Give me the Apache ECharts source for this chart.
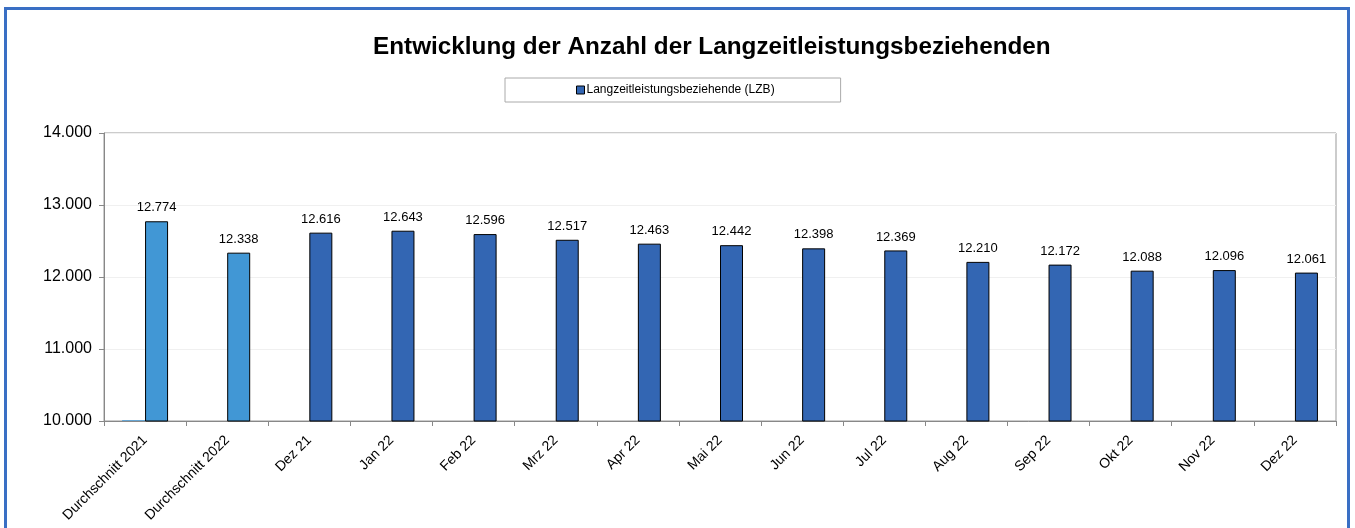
<!DOCTYPE html>
<html>
<head>
<meta charset="utf-8">
<script src="https://cdn.jsdelivr.net/npm/echarts@6/dist/echarts.min.js"></script>
<style>
html,body{margin:0;padding:0;background:#fff;}
#frame{position:absolute;left:4px;top:7px;width:1340px;height:600px;border:3px solid #3a6fc4;border-bottom:none;}
#chart{position:absolute;left:0;top:0;width:1355px;height:528px;}
</style>
</head>
<body>
<div id="frame"></div>
<div id="chart"></div>
<script>
// Kategorien und Werte
var categories=['Durchschnitt 2021','Durchschnitt 2022','Dez 21','Jan 22','Feb 22','Mrz 22','Apr 22','Mai 22','Jun 22','Jul 22','Aug 22','Sep 22','Okt 22','Nov 22','Dez 22'];
var lzbValues=[12774,12338,12616,12643,12596,12517,12463,12442,12398,12369,12210,12172,12088,12096,12061];
// erste (fast leere) Reihe, nur ein Strich bei Durchschnitt 2021 sichtbar
var firstValues=[10010,null,null,null,null,null,null,null,null,null,null,null,null,null,null];
var yTicks=[10000,11000,12000,13000,14000];

function fmt(v){
    return String(v).replace(/\B(?=(\d{3})+(?!\d))/g,'.');
}

var barData=[];
for(let i=0;i<lzbValues.length;i++){
    barData.push({
        value:lzbValues[i],
        itemStyle:{color:i<2?'#4197d5':'#3366b3',borderColor:'#000',borderWidth:1}
    });
}

var myChart=echarts.init(document.getElementById('chart'));
option={
    animation:false,
    textStyle:{fontFamily:'Liberation Sans, Arial, sans-serif'},
    title:{
        text:'Entwicklung der Anzahl der Langzeitleistungsbeziehenden',
        left:368,
        top:30,
        textStyle:{fontSize:24.3,fontWeight:'bold',color:'#000',fontFamily:'Liberation Sans, Arial, sans-serif'}
    },
    legend:{
        data:['Langzeitleistungsbeziehende (LZB)'],
        left:505,
        top:78,
        padding:[6,66,6,71],
        borderColor:'#aaa',
        borderWidth:1,
        icon:'rect',
        itemWidth:8,
        itemHeight:8,
        itemGap:4,
        itemStyle:{borderColor:'#000',borderWidth:1},
        textStyle:{fontSize:12,color:'#000',padding:[0,0,0,-3]}
    },
    grid:{
        left:104,
        right:19,
        top:133,
        bottom:107,
        show:true,
        borderColor:'#999',
        borderWidth:1
    },
    xAxis:{
        type:'category',
        data:categories,
        axisLine:{lineStyle:{color:'#888'}},
        axisTick:{show:true,lineStyle:{color:'#888'},length:5},
        axisLabel:{rotate:45,fontSize:14,color:'#000',interval:0,margin:17}
    },
    yAxis:{
        type:'value',
        min:yTicks[0],
        max:yTicks[yTicks.length-1],
        interval:1000,
        axisLine:{show:true,lineStyle:{color:'#888'}},
        axisTick:{show:true,lineStyle:{color:'#888'},length:5},
        axisLabel:{fontSize:16,color:'#000',margin:12,formatter:function(v){return fmt(v);}},
        splitLine:{lineStyle:{color:'#f0f0f0'}}
    },
    series:[
        {
            name:'erste Reihe',
            type:'bar',
            barWidth:23,
            barGap:'0%',
            itemStyle:{color:'#4197d5'},
            data:firstValues
        },
        {
            name:'Langzeitleistungsbeziehende (LZB)',
            type:'bar',
            barWidth:23,
            barGap:'0%',
            itemStyle:{color:'#3366b3',borderColor:'#000',borderWidth:1},
            label:{show:true,position:'top',distance:7,fontSize:13,color:'#000',formatter:function(p){return fmt(p.value);}},
            data:barData
        }
    ]
};
myChart.setOption(option);
</script>
</body>
</html>
